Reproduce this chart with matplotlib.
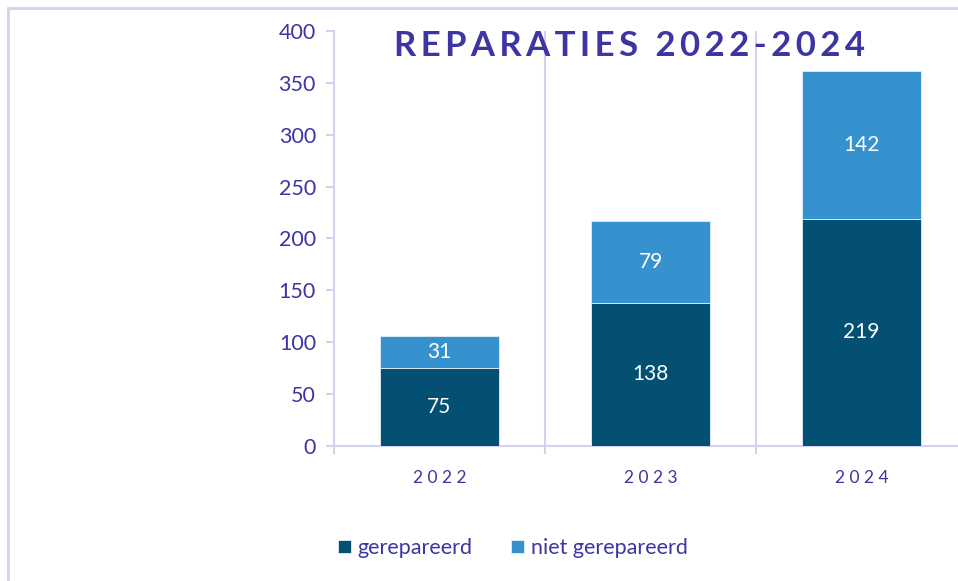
import numpy as np
from matplotlib import pyplot as plt
from matplotlib.patches import Rectangle

years = ['2022', '2023', '2024']
gerepareerd = [75, 138, 219]
niet_gerepareerd = [31, 79, 142]

dark = '#035073'
light = '#3592CF'
text_col = '#3C35A3'
grid_col = '#D4D0F2'

plt.rcParams['font.family'] = ['Lato', 'DejaVu Sans']

fig = plt.figure(figsize=(9.58, 5.81), dpi=100)

# outer frame (cut off at right/bottom like the screenshot)
fig.patches.append(Rectangle((8 / 958, -0.1), 1.2, (581 - 8) / 581 + 0.1,
                             transform=fig.transFigure, fill=False,
                             edgecolor=grid_col, linewidth=2))

ax = fig.add_axes([334 / 958, (581 - 446) / 581, 633 / 958, 415 / 581])
x = np.arange(len(years))
w = 0.56
ax.bar(x, gerepareerd, width=w, color=dark, edgecolor='#E6EEF4', linewidth=0.6,
       label='gerepareerd', zorder=3)
ax.bar(x, niet_gerepareerd, width=w, bottom=gerepareerd, color=light,
       edgecolor='#E6EEF4', linewidth=0.6, label='niet gerepareerd', zorder=3)

for i in range(len(years)):
    ax.text(x[i], gerepareerd[i] / 2, str(gerepareerd[i]), ha='center', va='center',
            color='white', fontsize=15)
    ax.text(x[i], gerepareerd[i] + niet_gerepareerd[i] / 2, str(niet_gerepareerd[i]),
            ha='center', va='center', color='white', fontsize=15)

ax.set_xlim(-0.5, 2.5)
ax.set_ylim(0, 400)
ax.set_yticks(range(0, 401, 50))
ax.tick_params(axis='y', colors=grid_col, labelcolor=text_col, labelsize=15.5,
               length=6, width=1.5, pad=7)
ax.set_xticks(x)
ax.set_xticklabels([' '.join(y) for y in years])
ax.tick_params(axis='x', length=0, labelcolor=text_col, labelsize=12.5, pad=17)
ax.set_xticks([-0.5, 0.5, 1.5], minor=True)
ax.tick_params(axis='x', which='minor', length=6, width=1.5, color=grid_col)
for xv in [0.5, 1.5]:
    ax.axvline(xv, color=grid_col, linewidth=1.5, zorder=1)

for s in ['top', 'right']:
    ax.spines[s].set_visible(False)
ax.spines['left'].set_color(grid_col)
ax.spines['left'].set_linewidth(1.5)
ax.spines['bottom'].set_color(grid_col)
ax.spines['bottom'].set_linewidth(1.5)

fig.text(630 / 958, 1 - 46 / 581, '\u2009'.join('REPARATIES 2022-2024'), ha='center',
         va='center', fontsize=25, fontweight='bold', color=text_col)

fig.legend(loc='center', bbox_to_anchor=(513 / 958, 1 - 548 / 581), ncol=2,
           frameon=False, fontsize=15.5, labelcolor=text_col, handlelength=0.6,
           handleheight=0.6, handletextpad=0.3, columnspacing=1.8)

fig.savefig('out.png', dpi=100)
